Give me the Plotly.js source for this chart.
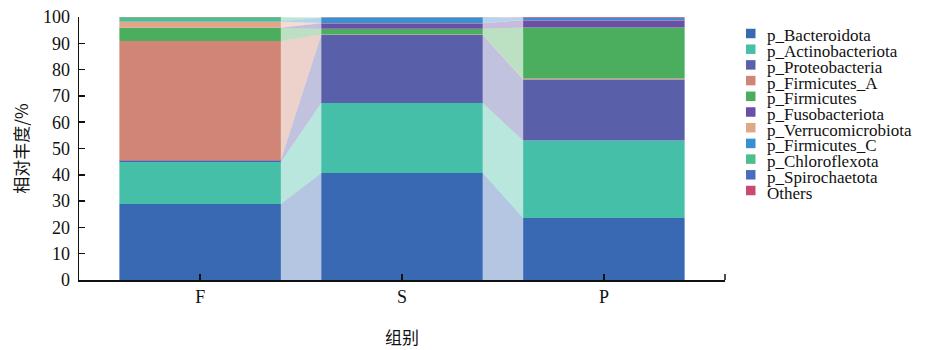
<!DOCTYPE html>
<html>
<head>
<meta charset="utf-8">
<script src="https://cdn.plot.ly/plotly-3.0.1.min.js"></script>
<style>html,body{margin:0;padding:0;background:#fff;}#chart{width:934px;height:350px;}</style>
</head>
<body>
<div id="chart"></div>
<script>
// ---- data ----
var groups = ['F', 'S', 'P'];
var phyla = ['p_Bacteroidota', 'p_Actinobacteriota', 'p_Proteobacteria', 'p_Firmicutes_A',
  'p_Firmicutes', 'p_Fusobacteriota', 'p_Verrucomicrobiota', 'p_Firmicutes_C',
  'p_Chloroflexota', 'p_Spirochaetota', 'Others'];
var bacteroidota      = [28.9, 40.7, 23.6];
var actinobacteriota  = [16.0, 26.6, 29.4];
var proteobacteria    = [0.6, 25.9, 23.2];
var firmicutesA       = [45.4, 0.1, 0.4];
var firmicutes        = [4.9, 2.2, 19.4];
var fusobacteriota    = [0.1, 2.1, 2.8];
var verrucomicrobiota = [2.3, 0.1, 0.1];
var firmicutesC       = [0.2, 2.0, 0.7];
var chloroflexota     = [1.5, 0.1, 0.1];
var spirochaetota     = [0.05, 0.1, 0.05];
var others            = [0.05, 0.1, 0.25];
var yTicks = [0, 10, 20, 30, 40, 50, 60, 70, 80, 90, 100];
var yTitle = '相对丰度/%';
var xTitle = '组别';

// ---- style ----
var series = [bacteroidota, actinobacteriota, proteobacteria, firmicutesA, firmicutes,
  fusobacteriota, verrucomicrobiota, firmicutesC, chloroflexota, spirochaetota, others];
var colors = ['#3a69b4', '#46bfa9', '#5a5fa9', '#d08577', '#4bae5f', '#6a4fa6',
  '#e0a688', '#3a8fd2', '#4dbf8b', '#4a6cc0', '#c84a6e'];
function rgba(hex, a) {
  var r = parseInt(hex.substr(1, 2), 16), g = parseInt(hex.substr(3, 2), 16), b = parseInt(hex.substr(5, 2), 16);
  return 'rgba(' + r + ',' + g + ',' + b + ',' + a + ')';
}
var xIdx = groups.map(function (g, i) { return i; });
var barW = 0.8;

var traces = [];
var base = groups.map(function () { return 0; });
var bases = [];
series.forEach(function (vals, k) {
  bases.push(base.slice());
  traces.push({
    type: 'bar', x: xIdx, y: vals, base: base.slice(), width: barW,
    marker: { color: colors[k], line: { width: 0 } }, name: phyla[k], showlegend: false,
    hoverinfo: 'name+y'
  });
  base = base.map(function (b, i) { return b + vals[i]; });
});
// link polygons between neighbouring bars
series.forEach(function (vals, k) {
  for (var j = 0; j < groups.length - 1; j++) {
    var b0 = bases[k][j], t0 = b0 + vals[j];
    var b1 = bases[k][j + 1], t1 = b1 + vals[j + 1];
    var xl = j + barW / 2, xr = j + 1 - barW / 2;
    traces.push({
      type: 'scatter', mode: 'lines', x: [xl, xl, xr, xr, xl], y: [b0, t0, t1, b1, b0],
      fill: 'toself', fillcolor: rgba(colors[k], 0.38), line: { width: 0 },
      hoverinfo: 'skip', showlegend: false
    });
  }
});

// layout geometry (pixels)
var W = 934, H = 350, mL = 79, mR = 209, mT = 17, mB = 70;
var pw = W - mL - mR, ph = H - mT - mB;
function px2x(p) { return (p - mL) / pw; }
function py2y(p) { return (H - mB - p) / ph; }

var shapes = [], annotations = [];
phyla.forEach(function (name, k) {
  var cy = 33.5 + k * 15.7;
  shapes.push({ type: 'rect', xref: 'paper', yref: 'paper',
    x0: px2x(746), x1: px2x(755.5), y0: py2y(cy + 4.75), y1: py2y(cy - 4.75),
    fillcolor: colors[k], line: { width: 0 } });
  annotations.push({ xref: 'paper', yref: 'paper', x: px2x(765), y: py2y(cy + 2.5),
    xanchor: 'left', yanchor: 'middle', showarrow: false, text: name,
    font: { family: 'Liberation Serif, Times New Roman, serif', size: 17, color: '#111' } });
});
// end tick on x axis
shapes.push({ type: 'line', xref: 'paper', yref: 'paper', x0: 1, x1: 1, y0: 0, y1: 6 / ph,
  line: { color: '#111', width: 1.5 } });

var layout = {
  width: W, height: H,
  margin: { l: mL, r: mR, t: mT, b: mB, pad: 0 },
  paper_bgcolor: '#fff', plot_bgcolor: '#fff',
  showlegend: false,
  barmode: 'overlay',
  xaxis: {
    range: [-0.6, 2.6], tickvals: xIdx, ticktext: groups,
    showgrid: false, zeroline: false, showline: true, linecolor: '#111', linewidth: 1.5,
    ticks: 'inside', ticklen: 6, tickwidth: 1.5, tickcolor: '#111',
    tickfont: { family: 'Liberation Serif, Times New Roman, serif', size: 18, color: '#111' },
    title: { text: xTitle, standoff: 26, font: { family: 'Noto Sans CJK SC, sans-serif', size: 17, color: '#111' } }
  },
  yaxis: {
    range: [0, 100], tickvals: yTicks,
    showgrid: false, zeroline: false, showline: true, linecolor: '#111', linewidth: 1.5,
    ticks: 'inside', ticklen: 6, tickwidth: 1.5, tickcolor: '#111',
    ticklabelstandoff: 4,
    tickfont: { family: 'Liberation Serif, Times New Roman, serif', size: 18, color: '#111' },
    title: { text: yTitle, standoff: 10, font: { family: 'Noto Sans CJK SC, sans-serif', size: 17, color: '#111' } }
  },
  shapes: shapes,
  annotations: annotations
};

Plotly.newPlot('chart', traces, layout, { displayModeBar: false, staticPlot: true });
</script>
</body>
</html>
